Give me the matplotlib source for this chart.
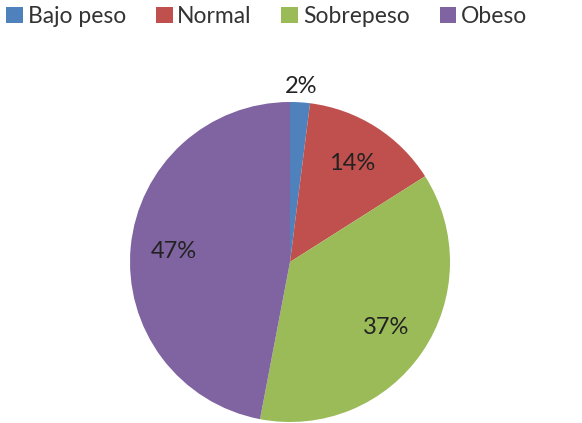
import matplotlib
matplotlib.use("Agg")
import matplotlib.pyplot as plt
import numpy as np

plt.rcParams['font.family'] = ['Lato', 'DejaVu Sans']

categories = ['Bajo peso', 'Normal', 'Sobrepeso', 'Obeso']
values = [2, 14, 37, 47]
colors = ['#4F81BD', '#C0504D', '#9BBB59', '#8064A2']

W, H = 582, 423
fig = plt.figure(figsize=(W / 100, H / 100), dpi=100)
# pie centred at (290, 262) px with radius 160 px
ax = fig.add_axes([130 / W, (H - 422) / H, 320 / W, 320 / H])

wedges, texts, autotexts = ax.pie(values, colors=colors, startangle=90, counterclock=False,
                                  autopct='%1.0f%%', pctdistance=0.73,
                                  wedgeprops=dict(linewidth=0),
                                  textprops=dict(fontsize=17, color='#222222'))
ax.set_xlim(-1, 1)
ax.set_ylim(-1, 1)
ax.set_aspect('equal')

# small slice gets its label pushed outside the pie
w = wedges[0]
mid = np.deg2rad((w.theta1 + w.theta2) / 2)
autotexts[0].set_position((1.1 * np.cos(mid), 1.1 * np.sin(mid)))
for t in autotexts:
    t.set_clip_on(False)

fig.legend(wedges, categories, loc='upper left', ncol=4, frameon=False,
           bbox_to_anchor=(6 / W, 1 - 6 / H), borderpad=0, borderaxespad=0,
           fontsize=16.5, handlelength=0.74, handleheight=0.74,
           handletextpad=0.2, columnspacing=1.3, labelcolor='#333333')

fig.savefig('out.png', dpi=100)
